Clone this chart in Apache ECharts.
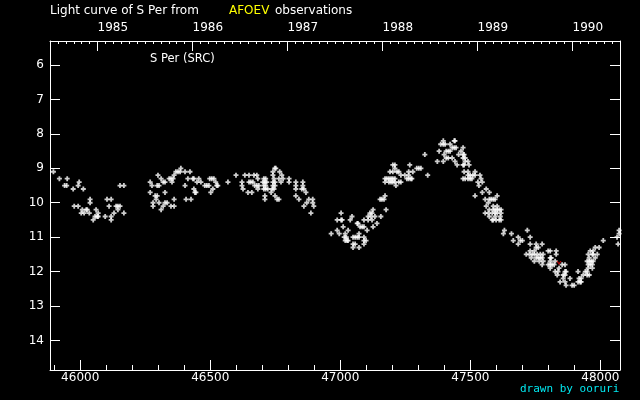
<!DOCTYPE html>
<html>
<head>
<meta charset="utf-8">
<script src="https://cdn.jsdelivr.net/npm/echarts@6/dist/echarts.min.js"></script>
<style>
  html, body { margin: 0; padding: 0; background: #000; }
  #chart { width: 640px; height: 400px; }
</style>
</head>
<body>
<div id="chart"></div>
<script>
// JD - 2400000 ticks on the bottom axis, years on the top axis
const jdMajor = [46000, 46500, 47000, 47500, 48000]
const jdMinor = [45900, 46100, 46200, 46300, 46400, 46600, 46700, 46800, 46900,
  47100, 47200, 47300, 47400, 47600, 47700, 47800, 47900]
const yearTicks = [1985, 1986, 1987, 1988, 1989, 1990]
const magTicks = [6, 7, 8, 9, 10, 11, 12, 13, 14]

// observations [JD - 2400000, visual magnitude], one array per season
const season1985 = [
  [45897, 9.1], [45920, 9.3], [45950, 9.3], [45940, 9.5], [45948, 9.5], [45973, 9.6], [45996, 9.4],
  [45992, 9.5], [46012, 9.6], [46038, 9.9], [46038, 10.0], [45977, 10.1], [45992, 10.1], [46008, 10.2],
  [46023, 10.2], [46027, 10.2], [46004, 10.3], [46015, 10.3], [46035, 10.3], [46050, 10.5], [46061, 10.2],
  [46069, 10.3], [46065, 10.4], [46057, 10.4], [46069, 10.4], [46103, 9.9], [46119, 9.9], [46111, 10.1],
  [46096, 10.4], [46119, 10.4], [46119, 10.5], [46130, 10.3], [46138, 10.1], [46145, 10.1], [46145, 10.2],
  [46153, 10.1], [46168, 10.3], [46153, 9.5], [46168, 9.5]
]
const season1986 = [
  [46269, 9.4], [46269, 9.7], [46276, 9.5], [46296, 9.5], [46303, 9.5], [46299, 9.2], [46311, 9.3],
  [46319, 9.4], [46326, 9.4], [46326, 9.7], [46288, 9.8], [46296, 9.8], [46292, 9.9], [46280, 10.0],
  [46280, 10.1], [46303, 10.0], [46311, 10.2], [46319, 10.1], [46326, 10.0], [46334, 10.0], [46349, 10.1],
  [46361, 10.1], [46361, 9.9], [46342, 9.3], [46349, 9.3], [46353, 9.4], [46357, 9.3], [46361, 9.2],
  [46368, 9.1], [46376, 9.1], [46384, 9.1], [46387, 9.0], [46403, 9.1], [46422, 9.1], [46403, 9.5],
  [46414, 9.3], [46433, 9.3], [46437, 9.3], [46456, 9.3], [46449, 9.4], [46464, 9.4], [46437, 9.6],
  [46441, 9.7], [46445, 9.7], [46407, 9.9], [46426, 9.9], [46479, 9.5], [46487, 9.5], [46495, 9.5],
  [46498, 9.3], [46506, 9.3], [46514, 9.3], [46521, 9.4], [46525, 9.5], [46529, 9.5], [46510, 9.6],
  [46502, 9.7]
]
const season1987 = [
  [46568, 9.4], [46599, 9.2], [46622, 9.4], [46622, 9.5], [46633, 9.2], [46649, 9.2], [46668, 9.2],
  [46679, 9.2], [46649, 9.4], [46656, 9.4], [46664, 9.4], [46626, 9.6], [46645, 9.7], [46660, 9.7],
  [46671, 9.5], [46679, 9.5], [46687, 9.5], [46683, 9.3], [46683, 9.6], [46706, 9.3], [46706, 9.5],
  [46706, 9.6], [46713, 9.3], [46713, 9.5], [46713, 9.6], [46702, 9.4], [46710, 9.4], [46710, 9.8],
  [46717, 9.4], [46721, 9.6], [46710, 9.9], [46741, 9.1], [46741, 9.2], [46741, 9.4], [46741, 9.5],
  [46748, 9.0], [46752, 9.0], [46745, 9.3], [46745, 9.6], [46749, 9.4], [46749, 9.5], [46738, 9.6],
  [46734, 9.7], [46767, 9.1], [46775, 9.2], [46764, 9.3], [46780, 9.3], [46772, 9.4], [46803, 9.3],
  [46803, 9.4], [46749, 9.8], [46757, 9.9], [46764, 9.9], [46829, 9.4], [46829, 9.5], [46829, 9.6],
  [46856, 9.4], [46856, 9.5], [46852, 9.6], [46860, 9.6], [46868, 9.7], [46829, 9.8], [46841, 9.9],
  [46879, 9.9], [46894, 9.9], [46871, 10.0], [46894, 10.0], [46898, 10.1], [46860, 10.1], [46887, 10.3]
]
const season1988 = [
  [47003, 10.3], [46965, 10.9], [46988, 10.5], [47003, 10.5], [47007, 10.5], [46988, 10.8], [47011, 10.7],
  [46996, 10.9], [47019, 10.9], [47015, 11.0], [47023, 11.0], [47019, 11.1], [47026, 11.1], [47030, 11.1],
  [47030, 10.8], [47038, 10.5], [47045, 10.4], [47049, 11.0], [47057, 11.0], [47065, 11.0], [47072, 11.0],
  [47072, 10.9], [47049, 11.2], [47049, 11.3], [47057, 11.2], [47072, 11.3], [47091, 11.0], [47091, 11.1],
  [47091, 11.2], [47099, 11.1], [47065, 10.6], [47068, 10.6], [47076, 10.7], [47084, 10.7], [47091, 10.7],
  [47103, 10.8], [47091, 10.5], [47107, 10.5], [47122, 10.5], [47107, 10.4], [47114, 10.3], [47122, 10.3],
  [47126, 10.2], [47118, 10.4], [47133, 10.4], [47126, 10.7], [47141, 10.6], [47156, 10.4], [47176, 10.2],
  [47153, 9.9], [47160, 9.9], [47168, 9.9], [47172, 9.8], [47172, 9.4], [47172, 9.3], [47179, 9.3],
  [47187, 9.3], [47187, 9.4], [47195, 9.3], [47195, 9.4], [47202, 9.3], [47202, 9.4], [47210, 9.3],
  [47210, 9.4], [47214, 9.5], [47225, 9.4], [47233, 9.4], [47191, 9.1], [47202, 9.1], [47202, 8.9],
  [47210, 8.9], [47210, 9.0], [47218, 9.1], [47225, 9.1], [47233, 9.2], [47248, 9.2], [47263, 9.1],
  [47263, 9.2], [47279, 9.1], [47256, 9.3], [47263, 9.3], [47271, 9.3], [47275, 9.3], [47267, 8.9],
  [47294, 9.0], [47302, 9.0], [47310, 9.0], [47336, 9.2], [47325, 8.6]
]
const season1989 = [
  [47373, 8.8], [47396, 8.8], [47380, 8.5], [47399, 8.6], [47396, 8.2], [47396, 8.3], [47386, 8.3],
  [47403, 8.3], [47407, 8.5], [47407, 8.7], [47415, 8.5], [47415, 8.7], [47422, 8.5], [47422, 8.3],
  [47430, 8.7], [47430, 8.4], [47438, 8.4], [47438, 8.2], [47445, 8.4], [47441, 8.2], [47441, 8.8],
  [47449, 8.9], [47455, 8.6], [47464, 8.5], [47472, 8.4], [47472, 8.6], [47472, 8.7], [47472, 8.9],
  [47472, 9.3], [47476, 8.6], [47476, 8.9], [47476, 9.1], [47480, 8.7], [47480, 8.8], [47480, 9.3],
  [47491, 8.8], [47491, 9.1], [47491, 9.2], [47491, 9.3], [47495, 8.9], [47499, 9.2], [47499, 9.3],
  [47506, 9.3], [47510, 9.2], [47518, 9.1], [47518, 9.2], [47518, 9.8], [47537, 9.2], [47541, 9.3],
  [47529, 9.4], [47546, 9.4], [47546, 9.7], [47533, 9.5], [47561, 9.6], [47561, 10.1], [47573, 9.7],
  [47573, 9.9], [47573, 10.2], [47573, 10.4], [47603, 9.8], [47603, 10.1], [47603, 10.2], [47603, 10.3],
  [47557, 9.9], [47557, 10.3], [47580, 9.9], [47588, 9.9], [47588, 10.1], [47588, 10.2], [47588, 10.5],
  [47595, 9.9], [47595, 10.2], [47595, 10.3], [47595, 10.4], [47569, 10.0], [47569, 10.3], [47611, 10.2],
  [47611, 10.5], [47618, 10.2], [47618, 10.3], [47618, 10.5], [47584, 10.3], [47584, 10.5], [47615, 10.4],
  [47599, 10.5]
]
const season1990 = [
  [47631, 10.8], [47627, 10.9], [47658, 10.9], [47665, 11.1], [47684, 11.0], [47684, 11.2], [47692, 11.1],
  [47700, 11.1], [47719, 10.8], [47730, 11.0], [47730, 11.2], [47753, 11.2], [47753, 11.3], [47776, 11.2],
  [47761, 11.3], [47715, 11.5], [47727, 11.5], [47738, 11.5], [47746, 11.5], [47746, 11.4], [47746, 11.7],
  [47757, 11.5], [47769, 11.5], [47769, 11.6], [47780, 11.5], [47780, 11.7], [47730, 11.4], [47734, 11.6],
  [47753, 11.6], [47761, 11.6], [47776, 11.6], [47776, 11.8], [47765, 11.7], [47799, 11.4], [47799, 11.8],
  [47807, 11.4], [47807, 11.6], [47807, 11.7], [47807, 11.8], [47807, 11.9], [47830, 11.4], [47830, 11.5],
  [47811, 11.6], [47814, 11.8], [47822, 11.8], [47826, 11.7], [47826, 12.0], [47841, 11.9], [47853, 11.8],
  [47864, 11.8], [47864, 12.0], [47864, 12.1], [47864, 12.3], [47837, 12.0], [47868, 12.0], [47868, 12.4],
  [47834, 12.1], [47857, 12.1], [47857, 12.2], [47883, 12.2], [47845, 12.3], [47891, 12.4], [47899, 12.4],
  [47914, 12.3], [47914, 12.0], [47922, 12.3], [47926, 12.3], [47926, 12.2], [47918, 12.2], [47942, 12.0],
  [47949, 12.0], [47949, 12.1], [47949, 11.7], [47934, 12.1], [47957, 12.1], [47957, 11.7], [47957, 11.6],
  [47953, 11.9], [47953, 11.8], [47953, 11.5], [47969, 11.9], [47969, 11.8], [47969, 11.5], [47961, 11.8],
  [47961, 11.4], [47965, 11.7], [47972, 11.7], [47972, 11.5], [47972, 11.4], [47980, 11.6], [47980, 11.3],
  [47988, 11.5], [47995, 11.3], [48011, 11.1], [48064, 11.0], [48072, 10.8], [48072, 10.9], [48068, 11.2]
]
// the single red mark near minimum
const redObs = [[47841, 11.75]]

// month ticks on the year axis
const monthTicks = []
for (let k = 1; k < 72; k++) monthTicks.push(1984.5 + k / 12)

const font = 'DejaVu Sans'
const plus = 'path://M0,1.6H5V3.4H0Z M1.6,0H3.4V5H1.6Z'
const plain = v => String(v)

let myChart = echarts.init(document.getElementById('chart'))

const tickAxis = (extra) => Object.assign({
  type: 'value',
  splitLine: { show: false },
  axisLine: { show: false },
  axisLabel: { show: false }
}, extra)

myChart.setOption({
  backgroundColor: '#000',
  animation: false,
  grid: { left: 50, right: 20, top: 41, bottom: 30 },
  graphic: [
    { type: 'text', left: 50, top: 5, style: { text: 'Light curve of S Per from', fill: '#fff', font: '12px ' + font } },
    { type: 'text', left: 229, top: 5, style: { text: 'AFOEV', fill: '#ffff00', font: '12px ' + font } },
    { type: 'text', left: 275, top: 5, style: { text: 'observations', fill: '#fff', font: '12px ' + font } },
    { type: 'text', left: 150, top: 53, style: { text: 'S Per (SRC)', fill: '#fff', font: '11.5px ' + font } },
    { type: 'text', left: 520, top: 384, style: { text: 'drawn by ooruri', fill: '#00e8f0', font: '11px "DejaVu Sans Mono"' } }
  ],
  xAxis: [
    {
      type: 'value',
      position: 'bottom',
      min: 45883.875,
      max: 48075.375,
      splitLine: { show: false },
      axisLine: { lineStyle: { color: '#fff', width: 1 } },
      axisTick: { inside: true, length: 10, customValues: jdMajor, lineStyle: { color: '#fff' } },
      axisLabel: { customValues: jdMajor, formatter: plain, color: '#fff', fontFamily: font, fontSize: 12, margin: 2 }
    },
    tickAxis({
      position: 'bottom',
      min: 45883.875,
      max: 48075.375,
      axisTick: { inside: true, length: 5, customValues: jdMinor, lineStyle: { color: '#fff' } }
    }),
    {
      type: 'value',
      position: 'top',
      min: 1984.5,
      max: 1990.5,
      splitLine: { show: false },
      axisLine: { lineStyle: { color: '#fff', width: 1 } },
      axisTick: { inside: true, length: 10, customValues: yearTicks, lineStyle: { color: '#fff' } },
      axisLabel: { customValues: yearTicks, formatter: plain, color: '#fff', fontFamily: font, fontSize: 12, margin: 7, align: 'left' }
    },
    tickAxis({
      position: 'top',
      min: 1984.5,
      max: 1990.5,
      axisTick: { inside: true, length: 3, customValues: monthTicks, lineStyle: { color: '#fff' } }
    })
  ],
  yAxis: [
    {
      type: 'value',
      position: 'left',
      inverse: true,
      min: 5.3,
      max: 14.86,
      splitLine: { show: false },
      axisLine: { lineStyle: { color: '#fff', width: 1 } },
      axisTick: { inside: true, length: 10, customValues: magTicks, lineStyle: { color: '#fff' } },
      axisLabel: { customValues: magTicks, formatter: plain, color: '#fff', fontFamily: font, fontSize: 12, margin: 6 }
    },
    {
      type: 'value',
      position: 'right',
      inverse: true,
      min: 5.3,
      max: 14.86,
      splitLine: { show: false },
      axisLine: { lineStyle: { color: '#fff', width: 1 } },
      axisTick: { inside: true, length: 10, customValues: magTicks, lineStyle: { color: '#fff' } },
      axisLabel: { show: false }
    }
  ],
  series: [
    season1985, season1986, season1987, season1988, season1989, season1990
  ].map(d => ({
    type: 'scatter',
    xAxisIndex: 0,
    yAxisIndex: 0,
    symbol: plus,
    symbolSize: 5,
    itemStyle: { color: '#fff' },
    data: d
  })).concat([{
    type: 'scatter',
    xAxisIndex: 0,
    yAxisIndex: 0,
    symbol: 'path://M0,0L2,3L4,0L3,0L2,1.5L1,0Z',
    symbolSize: [5, 4],
    itemStyle: { color: '#e00000' },
    data: redObs
  }])
})
</script>
</body>
</html>
